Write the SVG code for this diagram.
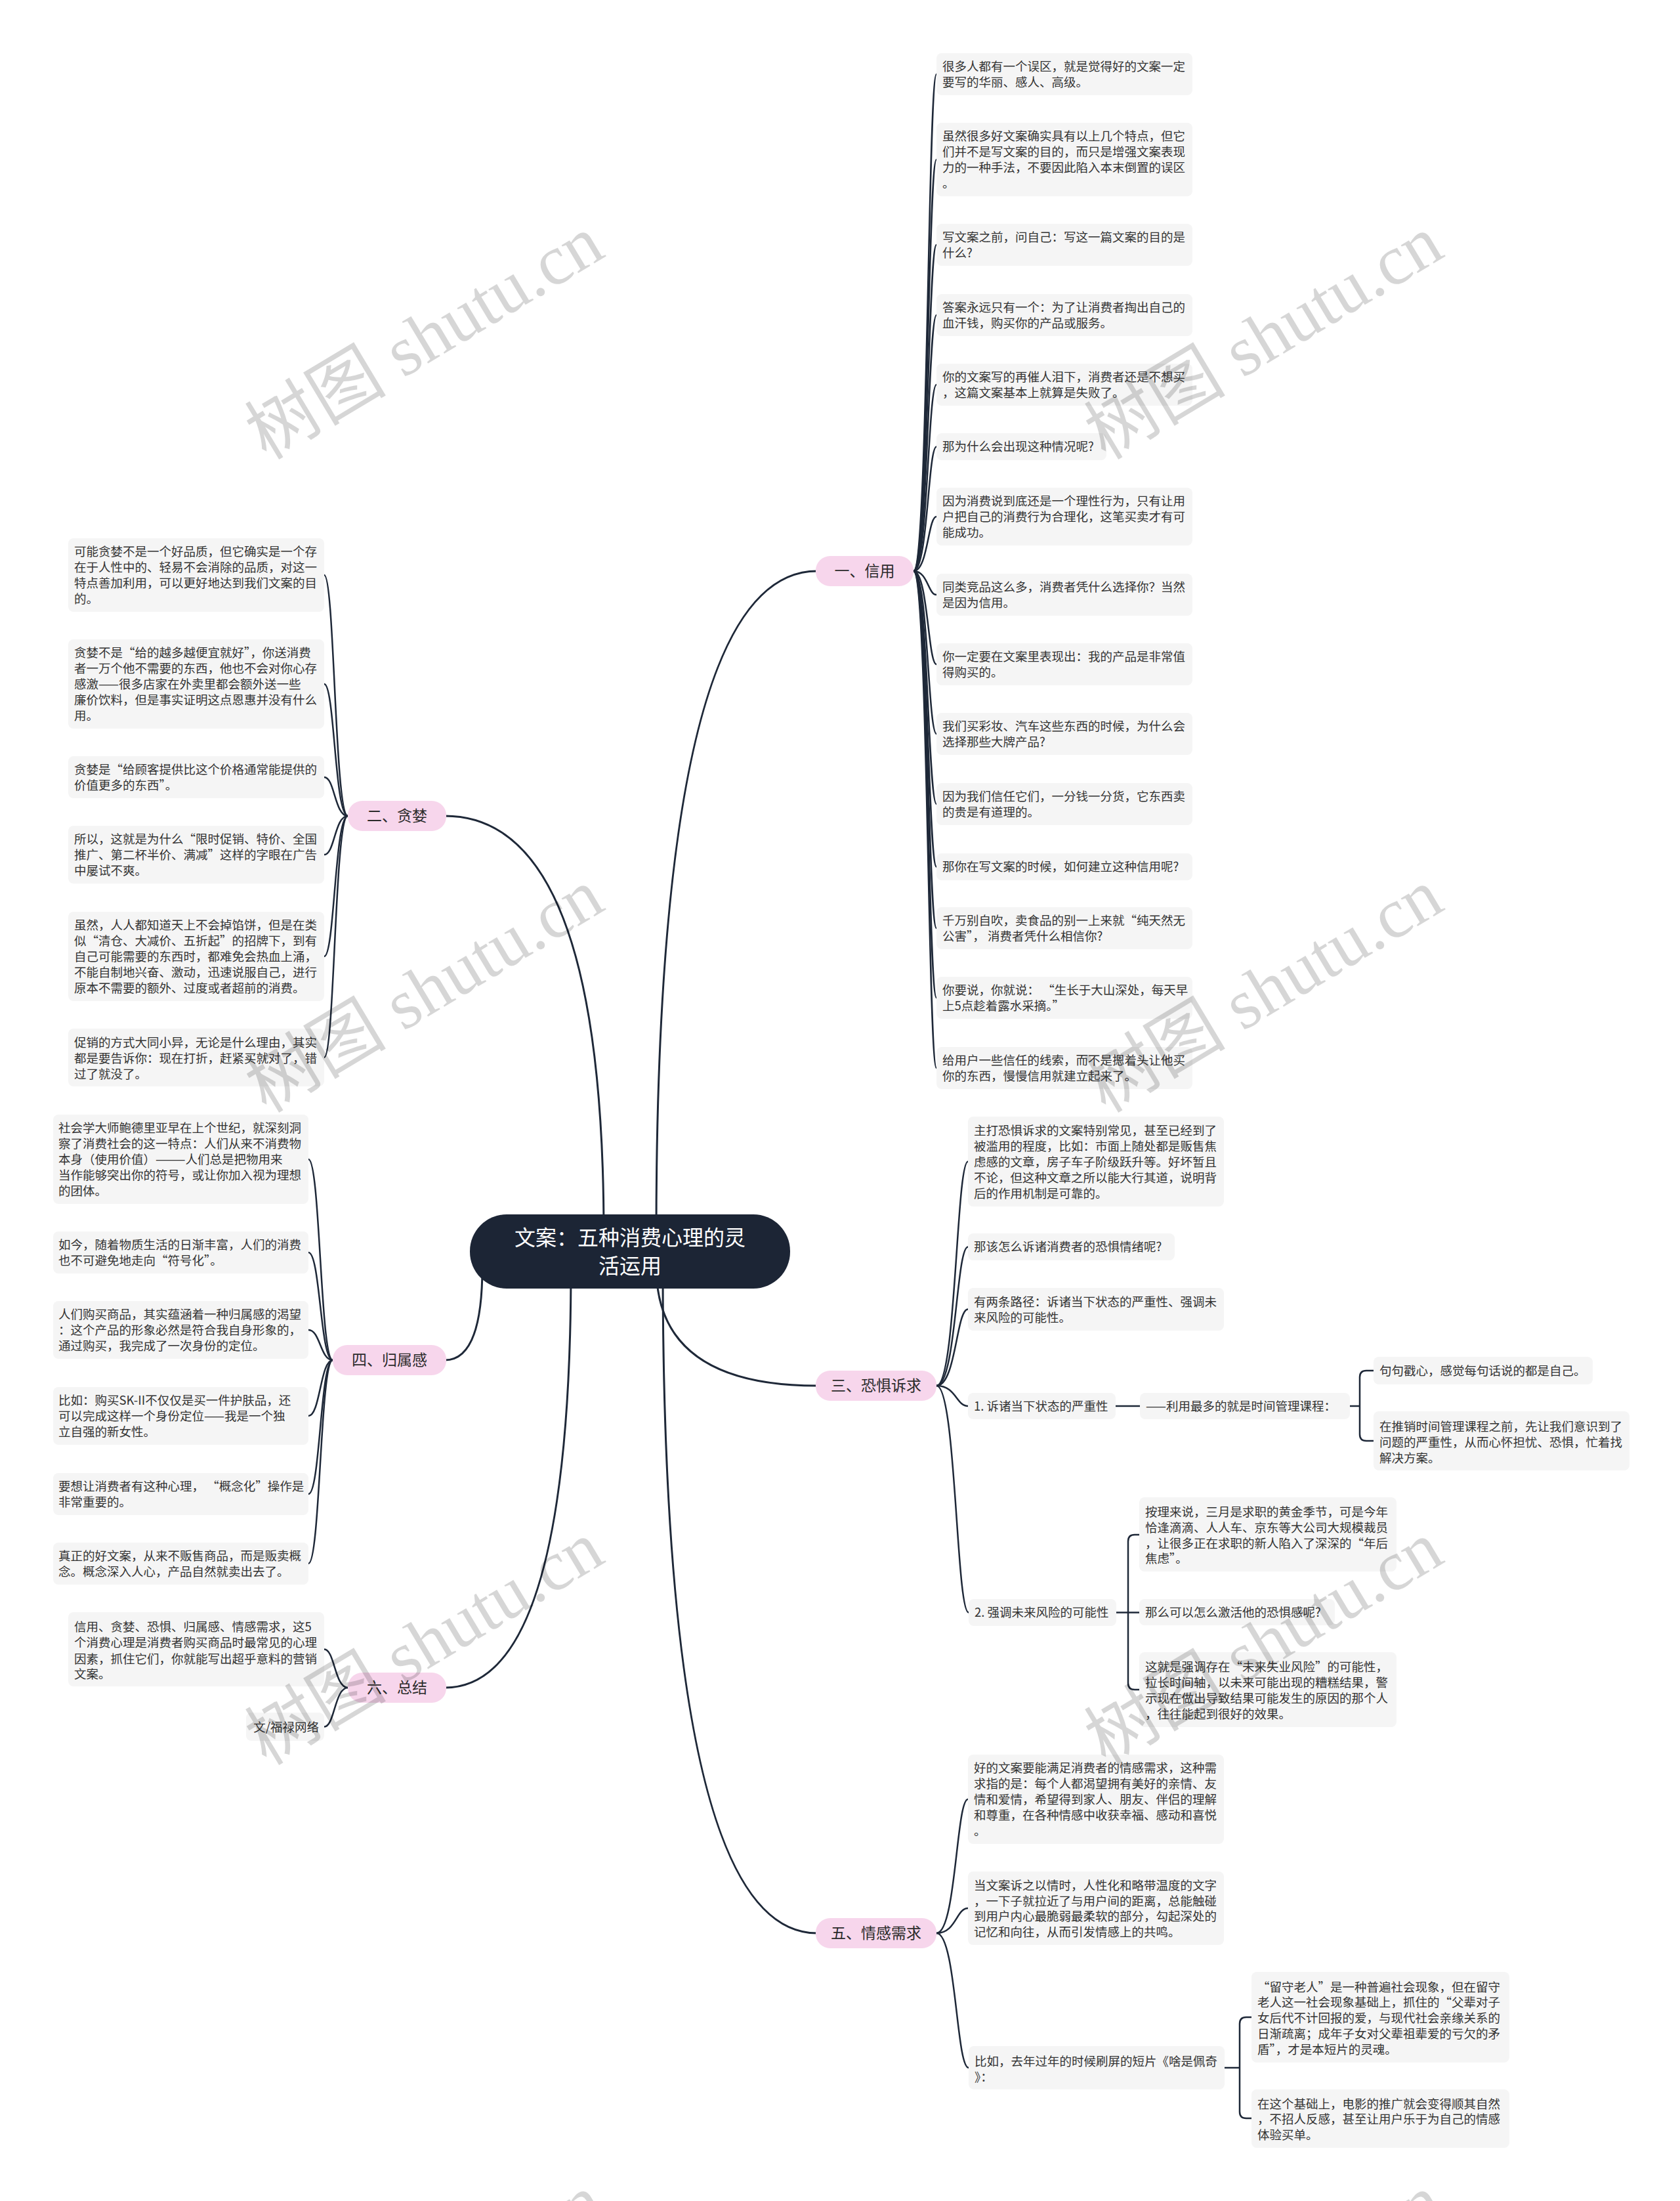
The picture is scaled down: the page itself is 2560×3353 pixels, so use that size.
<svg xmlns="http://www.w3.org/2000/svg" width="2560" height="3353" viewBox="0 0 2560 3353">
<style>
.bg{fill:#ffffff}
.lf{fill:#f5f5f5}
.t{font-family:"Noto Sans CJK SC","Liberation Sans",sans-serif;font-size:18.5px;fill:#333333}
.bn{fill:#f7d6ec}
.bt{font-family:"Noto Sans CJK SC","Liberation Sans",sans-serif;font-size:23px;fill:#2b2b2b;text-anchor:middle}
.ct{font-family:"Noto Sans CJK SC","Liberation Sans",sans-serif;font-size:32px;fill:#ffffff;text-anchor:middle}
.c{fill:none;stroke:#1e2838;stroke-width:2.5;stroke-linecap:round}
.cm{fill:none;stroke:#1e2838;stroke-width:3;stroke-linecap:round}
.wm{font-family:"Liberation Serif","Noto Sans CJK SC",serif;font-size:108px;fill:#000000;fill-opacity:0.16;text-anchor:middle}
</style>
<rect class="bg" x="0" y="0" width="2560" height="3353"/>

<g id="connectors">
  <path class="cm" d="M1000,1880 Q1000,870 1245,870"/>
  <path class="cm" d="M920,1880 Q920,1243 678,1243"/>
  <path class="cm" d="M1000,1930 Q1000,2111 1245,2111"/>
  <path class="cm" d="M735,1930 Q735,2072 678,2072"/>
  <path class="cm" d="M1010,1930 Q1010,2945 1245,2945"/>
  <path class="cm" d="M870,1930 Q870,2571 678,2571"/>
  <!-- 一 -->
  <path class="c" d="M1392,870 C1414,870 1414,113 1427,113"/>
  <path class="c" d="M1392,870 C1414,870 1414,243 1427,243"/>
  <path class="c" d="M1392,870 C1414,870 1414,373 1427,373"/>
  <path class="c" d="M1392,870 C1414,870 1414,480 1427,480"/>
  <path class="c" d="M1392,870 C1414,870 1414,586 1427,586"/>
  <path class="c" d="M1392,870 C1414,870 1414,680.5 1427,680.5"/>
  <path class="c" d="M1392,870 C1414,870 1414,787 1427,787"/>
  <path class="c" d="M1392,870 C1414,870 1414,906 1427,906"/>
  <path class="c" d="M1392,870 C1414,870 1414,1012 1427,1012"/>
  <path class="c" d="M1392,870 C1414,870 1414,1118 1427,1118"/>
  <path class="c" d="M1392,870 C1414,870 1414,1225 1427,1225"/>
  <path class="c" d="M1392,870 C1414,870 1414,1320.5 1427,1320.5"/>
  <path class="c" d="M1392,870 C1414,870 1414,1414 1427,1414"/>
  <path class="c" d="M1392,870 C1414,870 1414,1520 1427,1520"/>
  <path class="c" d="M1392,870 C1414,870 1414,1627 1427,1627"/>
  <!-- 二 -->
  <path class="c" d="M530,1243 C510,1243 510,876 494,876"/>
  <path class="c" d="M530,1243 C510,1243 510,1042 494,1042"/>
  <path class="c" d="M530,1243 C510,1243 510,1184 494,1184"/>
  <path class="c" d="M530,1243 C510,1243 510,1302 494,1302"/>
  <path class="c" d="M530,1243 C510,1243 510,1457 494,1457"/>
  <path class="c" d="M530,1243 C510,1243 510,1611 494,1611"/>
  <!-- 三 -->
  <path class="c" d="M1427,2111 C1457,2111 1457,1769.5 1475,1769.5"/>
  <path class="c" d="M1427,2111 C1457,2111 1457,1899.5 1475,1899.5"/>
  <path class="c" d="M1427,2111 C1457,2111 1457,1994.5 1475,1994.5"/>
  <path class="c" d="M1427,2111 C1457,2111 1457,2142 1475,2142"/>
  <path class="c" d="M1427,2111 C1457,2111 1457,2456.5 1476,2456.5"/>
  <path class="c" d="M1700,2142 H1737"/>
  <path class="c" d="M2057,2142 H2072 M2072,2142 V2098 Q2072,2088 2082,2088 H2093 M2072,2142 V2185 Q2072,2195 2082,2195 H2093"/>
  <path class="c" d="M1701,2456.5 H1736 M1719,2456.5 V2348 Q1719,2338 1729,2338 H1736 M1719,2456.5 V2564 Q1719,2574 1729,2574 H1736"/>
  <!-- 四 -->
  <path class="c" d="M507,2072 C488,2072 488,1766 470,1766"/>
  <path class="c" d="M507,2072 C488,2072 488,1908 470,1908"/>
  <path class="c" d="M507,2072 C488,2072 488,2026 470,2026"/>
  <path class="c" d="M507,2072 C488,2072 488,2157 470,2157"/>
  <path class="c" d="M507,2072 C488,2072 488,2276 470,2276"/>
  <path class="c" d="M507,2072 C488,2072 488,2382 470,2382"/>
  <!-- 五 -->
  <path class="c" d="M1427,2945 C1457,2945 1457,2741 1475,2741"/>
  <path class="c" d="M1427,2945 C1457,2945 1457,2907 1475,2907"/>
  <path class="c" d="M1427,2945 C1457,2945 1457,3150 1476,3150"/>
  <path class="c" d="M1866,3150 H1889 M1889,3150 V3083 Q1889,3073 1899,3073 H1907 M1889,3150 V3217 Q1889,3227 1899,3227 H1907"/>
  <!-- 六 -->
  <path class="c" d="M530,2571 C510,2571 510,2512.5 494,2512.5"/>
  <path class="c" d="M530,2571 C510,2571 510,2630.5 494,2630.5"/>
</g>

<g id="center">
  <rect x="716" y="1850" width="488" height="113" rx="56" fill="#1c2535"/>
  <text class="ct"><tspan x="960" y="1897">文案：五种消费心理的灵</tspan><tspan x="960" y="1940">活运用</tspan></text>
</g>

<g id="b1"><rect class="bn" x="1243" y="847" width="149" height="46" rx="22"/><text class="bt" x="1317.5" y="878">一、信用</text></g>
<g id="b2"><rect class="bn" x="530" y="1220" width="150" height="46" rx="22"/><text class="bt" x="605" y="1251">二、贪婪</text></g>
<g id="b3"><rect class="bn" x="1243" y="2088" width="184" height="46" rx="22"/><text class="bt" x="1335" y="2119">三、恐惧诉求</text></g>
<g id="b4"><rect class="bn" x="507" y="2049" width="173" height="46" rx="22"/><text class="bt" x="593.5" y="2080">四、归属感</text></g>
<g id="b5"><rect class="bn" x="1243" y="2922" width="184" height="46" rx="22"/><text class="bt" x="1335" y="2953">五、情感需求</text></g>
<g id="b6"><rect class="bn" x="530" y="2548" width="150" height="46" rx="22"/><text class="bt" x="605" y="2579">六、总结</text></g>

<!-- 一 leaves -->
<g id="n1-1"><rect class="lf" x="1427" y="81" width="390" height="64" rx="8"/><text class="t"><tspan x="1436" y="107.5">很多人都有一个误区，就是觉得好的文案一定</tspan><tspan x="1436" y="131.5">要写的华丽、感人、高级。</tspan></text></g>
<g id="n1-2"><rect class="lf" x="1427" y="187" width="390" height="112" rx="8"/><text class="t"><tspan x="1436" y="213.5">虽然很多好文案确实具有以上几个特点，但它</tspan><tspan x="1436" y="237.5">们并不是写文案的目的，而只是增强文案表现</tspan><tspan x="1436" y="261.5">力的一种手法，不要因此陷入本末倒置的误区</tspan><tspan x="1436" y="285.5">。</tspan></text></g>
<g id="n1-3"><rect class="lf" x="1427" y="341" width="390" height="64" rx="8"/><text class="t"><tspan x="1436" y="367.5">写文案之前，问自己：写这一篇文案的目的是</tspan><tspan x="1436" y="391.5">什么?</tspan></text></g>
<g id="n1-4"><rect class="lf" x="1427" y="448" width="390" height="64" rx="8"/><text class="t"><tspan x="1436" y="474.5">答案永远只有一个：为了让消费者掏出自己的</tspan><tspan x="1436" y="498.5">血汗钱，购买你的产品或服务。</tspan></text></g>
<g id="n1-5"><rect class="lf" x="1427" y="554" width="390" height="64" rx="8"/><text class="t"><tspan x="1436" y="580.5">你的文案写的再催人泪下，消费者还是不想买</tspan><tspan x="1436" y="604.5">，这篇文案基本上就算是失败了。</tspan></text></g>
<g id="n1-6"><rect class="lf" x="1427" y="660" width="259" height="41" rx="8"/><text class="t"><tspan x="1436" y="687">那为什么会出现这种情况呢?</tspan></text></g>
<g id="n1-7"><rect class="lf" x="1427" y="743" width="390" height="88" rx="8"/><text class="t"><tspan x="1436" y="769.5">因为消费说到底还是一个理性行为，只有让用</tspan><tspan x="1436" y="793.5">户把自己的消费行为合理化，这笔买卖才有可</tspan><tspan x="1436" y="817.5">能成功。</tspan></text></g>
<g id="n1-8"><rect class="lf" x="1427" y="874" width="390" height="64" rx="8"/><text class="t"><tspan x="1436" y="900.5">同类竞品这么多，消费者凭什么选择你？当然</tspan><tspan x="1436" y="924.5">是因为信用。</tspan></text></g>
<g id="n1-9"><rect class="lf" x="1427" y="980" width="390" height="64" rx="8"/><text class="t"><tspan x="1436" y="1006.5">你一定要在文案里表现出：我的产品是非常值</tspan><tspan x="1436" y="1030.5">得购买的。</tspan></text></g>
<g id="n1-10"><rect class="lf" x="1427" y="1086" width="390" height="64" rx="8"/><text class="t"><tspan x="1436" y="1112.5">我们买彩妆、汽车这些东西的时候，为什么会</tspan><tspan x="1436" y="1136.5">选择那些大牌产品?</tspan></text></g>
<g id="n1-11"><rect class="lf" x="1427" y="1193" width="390" height="64" rx="8"/><text class="t"><tspan x="1436" y="1219.5">因为我们信任它们，一分钱一分货，它东西卖</tspan><tspan x="1436" y="1243.5">的贵是有道理的。</tspan></text></g>
<g id="n1-12"><rect class="lf" x="1427" y="1300" width="390" height="41" rx="8"/><text class="t"><tspan x="1436" y="1327">那你在写文案的时候，如何建立这种信用呢?</tspan></text></g>
<g id="n1-13"><rect class="lf" x="1427" y="1382" width="390" height="64" rx="8"/><text class="t"><tspan x="1436" y="1408.5">千万别自吹，卖食品的别一上来就“纯天然无</tspan><tspan x="1436" y="1432.5">公害”， 消费者凭什么相信你?</tspan></text></g>
<g id="n1-14"><rect class="lf" x="1427" y="1488" width="390" height="64" rx="8"/><text class="t"><tspan x="1436" y="1514.5">你要说，你就说： “生长于大山深处，每天早</tspan><tspan x="1436" y="1538.5">上5点趁着露水采摘。”</tspan></text></g>
<g id="n1-15"><rect class="lf" x="1427" y="1595" width="390" height="64" rx="8"/><text class="t"><tspan x="1436" y="1621.5">给用户一些信任的线索，而不是摁着头让他买</tspan><tspan x="1436" y="1645.5">你的东西，慢慢信用就建立起来了。</tspan></text></g>

<!-- 二 leaves -->
<g id="n2-1"><rect class="lf" x="104" y="820" width="390" height="112" rx="8"/><text class="t"><tspan x="113" y="846.5">可能贪婪不是一个好品质，但它确实是一个存</tspan><tspan x="113" y="870.5">在于人性中的、轻易不会消除的品质，对这一</tspan><tspan x="113" y="894.5">特点善加利用，可以更好地达到我们文案的目</tspan><tspan x="113" y="918.5">的。</tspan></text></g>
<g id="n2-2"><rect class="lf" x="104" y="974" width="390" height="136" rx="8"/><text class="t"><tspan x="113" y="1000.5">贪婪不是“给的越多越便宜就好”，你送消费</tspan><tspan x="113" y="1024.5">者一万个他不需要的东西，他也不会对你心存</tspan><tspan x="113" y="1048.5">感激——很多店家在外卖里都会额外送一些</tspan><tspan x="113" y="1072.5">廉价饮料，但是事实证明这点恩惠并没有什么</tspan><tspan x="113" y="1096.5">用。</tspan></text></g>
<g id="n2-3"><rect class="lf" x="104" y="1152" width="390" height="64" rx="8"/><text class="t"><tspan x="113" y="1178.5">贪婪是“给顾客提供比这个价格通常能提供的</tspan><tspan x="113" y="1202.5">价值更多的东西”。</tspan></text></g>
<g id="n2-4"><rect class="lf" x="104" y="1258" width="390" height="88" rx="8"/><text class="t"><tspan x="113" y="1284.5">所以，这就是为什么“限时促销、特价、全国</tspan><tspan x="113" y="1308.5">推广、第二杯半价、满减”这样的字眼在广告</tspan><tspan x="113" y="1332.5">中屡试不爽。</tspan></text></g>
<g id="n2-5"><rect class="lf" x="104" y="1389" width="390" height="136" rx="8"/><text class="t"><tspan x="113" y="1415.5">虽然，人人都知道天上不会掉馅饼，但是在类</tspan><tspan x="113" y="1439.5">似“清仓、大减价、五折起”的招牌下，到有</tspan><tspan x="113" y="1463.5">自己可能需要的东西时，都难免会热血上涌，</tspan><tspan x="113" y="1487.5">不能自制地兴奋、激动，迅速说服自己，进行</tspan><tspan x="113" y="1511.5">原本不需要的额外、过度或者超前的消费。</tspan></text></g>
<g id="n2-6"><rect class="lf" x="104" y="1567" width="390" height="88" rx="8"/><text class="t"><tspan x="113" y="1594.5">促销的方式大同小异，无论是什么理由，其实</tspan><tspan x="113" y="1618.5">都是要告诉你：现在打折，赶紧买就对了，错</tspan><tspan x="113" y="1642.5">过了就没了。</tspan></text></g>

<!-- 四 leaves -->
<g id="n4-1"><rect class="lf" x="81" y="1698" width="389" height="136" rx="8"/><text class="t"><tspan x="89" y="1724.5">社会学大师鲍德里亚早在上个世纪，就深刻洞</tspan><tspan x="89" y="1748.5">察了消费社会的这一特点：人们从来不消费物</tspan><tspan x="89" y="1772.5">本身（使用价值）———人们总是把物用来</tspan><tspan x="89" y="1796.5">当作能够突出你的符号，或让你加入视为理想</tspan><tspan x="89" y="1820.5">的团体。</tspan></text></g>
<g id="n4-2"><rect class="lf" x="81" y="1876" width="389" height="64" rx="8"/><text class="t"><tspan x="89" y="1902.5">如今，随着物质生活的日渐丰富，人们的消费</tspan><tspan x="89" y="1926.5">也不可避免地走向“符号化”。</tspan></text></g>
<g id="n4-3"><rect class="lf" x="81" y="1982" width="389" height="88" rx="8"/><text class="t"><tspan x="89" y="2008.5">人们购买商品，其实蕴涵着一种归属感的渴望</tspan><tspan x="89" y="2032.5">：这个产品的形象必然是符合我自身形象的，</tspan><tspan x="89" y="2056.5">通过购买，我完成了一次身份的定位。</tspan></text></g>
<g id="n4-4"><rect class="lf" x="81" y="2113" width="389" height="88" rx="8"/><text class="t"><tspan x="89" y="2139.5">比如：购买SK-II不仅仅是买一件护肤品，还</tspan><tspan x="89" y="2163.5">可以完成这样一个身份定位——我是一个独</tspan><tspan x="89" y="2187.5">立自强的新女性。</tspan></text></g>
<g id="n4-5"><rect class="lf" x="81" y="2244" width="389" height="64" rx="8"/><text class="t"><tspan x="89" y="2270.5">要想让消费者有这种心理， “概念化”操作是</tspan><tspan x="89" y="2294.5">非常重要的。</tspan></text></g>
<g id="n4-6"><rect class="lf" x="81" y="2350" width="389" height="64" rx="8"/><text class="t"><tspan x="89" y="2376.5">真正的好文案，从来不贩售商品，而是贩卖概</tspan><tspan x="89" y="2400.5">念。概念深入人心，产品自然就卖出去了。</tspan></text></g>

<!-- 六 leaves -->
<g id="n6-1"><rect class="lf" x="104" y="2456" width="390" height="113" rx="8"/><text class="t"><tspan x="113" y="2484.5">信用、贪婪、恐惧、归属感、情感需求，这5</tspan><tspan x="113" y="2509">个消费心理是消费者购买商品时最常见的心理</tspan><tspan x="113" y="2533.5">因素，抓住它们，你就能写出超乎意料的营销</tspan><tspan x="113" y="2557">文案。</tspan></text></g>
<g id="n6-2"><rect class="lf" x="375" y="2609" width="119" height="43" rx="8"/><text class="t" text-anchor="end" x="486" y="2637.5">文/福禄网络</text></g>

<!-- 三 leaves -->
<g id="n3-1"><rect class="lf" x="1475" y="1701" width="390" height="137" rx="8"/><text class="t"><tspan x="1484" y="1728.5">主打恐惧诉求的文案特别常见，甚至已经到了</tspan><tspan x="1484" y="1752.5">被滥用的程度，比如：市面上随处都是贩售焦</tspan><tspan x="1484" y="1776.5">虑感的文章，房子车子阶级跃升等。好坏暂且</tspan><tspan x="1484" y="1800.5">不论，但这种文章之所以能大行其道，说明背</tspan><tspan x="1484" y="1824.5">后的作用机制是可靠的。</tspan></text></g>
<g id="n3-2"><rect class="lf" x="1475" y="1879" width="315" height="41" rx="8"/><text class="t"><tspan x="1484" y="1906">那该怎么诉诸消费者的恐惧情绪呢?</tspan></text></g>
<g id="n3-3"><rect class="lf" x="1475" y="1962" width="390" height="65" rx="8"/><text class="t"><tspan x="1484" y="1989.5">有两条路径：诉诸当下状态的严重性、强调未</tspan><tspan x="1484" y="2013.5">来风险的可能性。</tspan></text></g>
<g id="n3-4"><rect class="lf" x="1475" y="2122" width="225" height="40" rx="8"/><text class="t"><tspan x="1484" y="2148.5">1. 诉诸当下状态的严重性</tspan></text></g>
<g id="n3-5"><rect class="lf" x="1737" y="2122" width="320" height="40" rx="8"/><text class="t"><tspan x="1746" y="2148.5">——利用最多的就是时间管理课程：</tspan></text></g>
<g id="n3-6"><rect class="lf" x="2093" y="2067" width="334" height="42" rx="8"/><text class="t"><tspan x="2102" y="2094.5">句句戳心，感觉每句话说的都是自己。</tspan></text></g>
<g id="n3-7"><rect class="lf" x="2093" y="2150" width="390" height="90" rx="8"/><text class="t"><tspan x="2102" y="2179.5">在推销时间管理课程之前，先让我们意识到了</tspan><tspan x="2102" y="2203.5">问题的严重性，从而心怀担忧、恐惧，忙着找</tspan><tspan x="2102" y="2227.5">解决方案。</tspan></text></g>
<g id="n3-8"><rect class="lf" x="1476" y="2436" width="225" height="41" rx="8"/><text class="t"><tspan x="1485" y="2463">2. 强调未来风险的可能性</tspan></text></g>
<g id="n3-9"><rect class="lf" x="1736" y="2281" width="392" height="113" rx="8"/><text class="t"><tspan x="1745" y="2309.5">按理来说，三月是求职的黄金季节，可是今年</tspan><tspan x="1745" y="2333.5">恰逢滴滴、人人车、京东等大公司大规模裁员</tspan><tspan x="1745" y="2357.5">，让很多正在求职的新人陷入了深深的“年后</tspan><tspan x="1745" y="2380.5">焦虑”。</tspan></text></g>
<g id="n3-10"><rect class="lf" x="1736" y="2436" width="298" height="40" rx="8"/><text class="t"><tspan x="1745" y="2462.5">那么可以怎么激活他的恐惧感呢?</tspan></text></g>
<g id="n3-11"><rect class="lf" x="1736" y="2517" width="392" height="114" rx="8"/><text class="t"><tspan x="1745" y="2545.5">这就是强调存在“未来失业风险”的可能性，</tspan><tspan x="1745" y="2569.5">拉长时间轴，以未来可能出现的糟糕结果，警</tspan><tspan x="1745" y="2593.5">示现在做出导致结果可能发生的原因的那个人</tspan><tspan x="1745" y="2617.5">，往往能起到很好的效果。</tspan></text></g>

<!-- 五 leaves -->
<g id="n5-1"><rect class="lf" x="1475" y="2673" width="390" height="136" rx="8"/><text class="t"><tspan x="1484" y="2699.5">好的文案要能满足消费者的情感需求，这种需</tspan><tspan x="1484" y="2723.5">求指的是：每个人都渴望拥有美好的亲情、友</tspan><tspan x="1484" y="2747.5">情和爱情，希望得到家人、朋友、伴侣的理解</tspan><tspan x="1484" y="2771.5">和尊重，在各种情感中收获幸福、感动和喜悦</tspan><tspan x="1484" y="2795.5">。</tspan></text></g>
<g id="n5-2"><rect class="lf" x="1475" y="2851" width="390" height="112" rx="8"/><text class="t"><tspan x="1484" y="2878.5">当文案诉之以情时，人性化和略带温度的文字</tspan><tspan x="1484" y="2902.5">，一下子就拉近了与用户间的距离，总能触碰</tspan><tspan x="1484" y="2925.5">到用户内心最脆弱最柔软的部分，勾起深处的</tspan><tspan x="1484" y="2949.5">记忆和向往，从而引发情感上的共鸣。</tspan></text></g>
<g id="n5-3"><rect class="lf" x="1476" y="3117" width="390" height="66" rx="8"/><text class="t"><tspan x="1485" y="3146.5">比如，去年过年的时候刷屏的短片《啥是佩奇</tspan><tspan x="1485" y="3170.5">》：</tspan></text></g>
<g id="n5-4"><rect class="lf" x="1907" y="3004" width="393" height="138" rx="8"/><text class="t"><tspan x="1916" y="3033.5">“留守老人”是一种普遍社会现象，但在留守</tspan><tspan x="1916" y="3057">老人这一社会现象基础上，抓住的“父辈对子</tspan><tspan x="1916" y="3080.5">女后代不计回报的爱，与现代社会亲缘关系的</tspan><tspan x="1916" y="3104.5">日渐疏离；成年子女对父辈祖辈爱的亏欠的矛</tspan><tspan x="1916" y="3128.5">盾”，才是本短片的灵魂。</tspan></text></g>
<g id="n5-5"><rect class="lf" x="1907" y="3183" width="393" height="89" rx="8"/><text class="t"><tspan x="1916" y="3211.5">在这个基础上，电影的推广就会变得顺其自然</tspan><tspan x="1916" y="3235">，不招人反感，甚至让用户乐于为自己的情感</tspan><tspan x="1916" y="3258.5">体验买单。</tspan></text></g>

<g id="watermark">
  <text class="wm" x="646" y="551" transform="rotate(-31 646 513)">树图 shutu.cn</text>
  <text class="wm" x="1925" y="551" transform="rotate(-31 1925 513)">树图 shutu.cn</text>
  <text class="wm" x="646" y="1546" transform="rotate(-31 646 1508)">树图 shutu.cn</text>
  <text class="wm" x="1925" y="1546" transform="rotate(-31 1925 1508)">树图 shutu.cn</text>
  <text class="wm" x="646" y="2540" transform="rotate(-31 646 2502)">树图 shutu.cn</text>
  <text class="wm" x="1925" y="2540" transform="rotate(-31 1925 2502)">树图 shutu.cn</text>
  <text class="wm" x="646" y="3535" transform="rotate(-31 646 3497)">树图 shutu.cn</text>
  <text class="wm" x="1925" y="3535" transform="rotate(-31 1925 3497)">树图 shutu.cn</text>
</g>
</svg>
